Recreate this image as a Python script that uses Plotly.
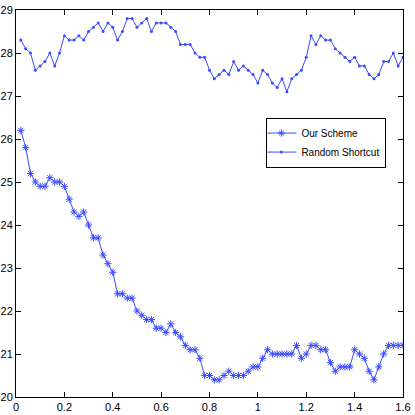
import plotly.graph_objects as go

x_vals = [round(0.02 * i, 2) for i in range(1, 81)]

our_scheme = [
    26.2, 25.8, 25.2, 25.0, 24.9, 24.9, 25.1, 25.0, 25.0, 24.9,
    24.6, 24.3, 24.2, 24.3, 24.0, 23.7, 23.7, 23.3, 23.1, 22.9,
    22.4, 22.4, 22.3, 22.3, 22.0, 21.9, 21.8, 21.8, 21.6, 21.6,
    21.5, 21.7, 21.5, 21.4, 21.2, 21.1, 21.1, 20.9, 20.5, 20.5,
    20.4, 20.4, 20.5, 20.6, 20.5, 20.5, 20.5, 20.6, 20.7, 20.7,
    20.9, 21.1, 21.0, 21.0, 21.0, 21.0, 21.0, 21.2, 20.9, 21.0,
    21.2, 21.2, 21.1, 21.1, 20.8, 20.6, 20.7, 20.7, 20.7, 21.1,
    21.0, 20.9, 20.6, 20.4, 20.7, 21.0, 21.2, 21.2, 21.2, 21.2,
]

random_shortcut = [
    28.3, 28.1, 28.0, 27.6, 27.7, 27.8, 28.0, 27.7, 28.0, 28.4,
    28.3, 28.3, 28.4, 28.3, 28.5, 28.6, 28.7, 28.5, 28.7, 28.6,
    28.3, 28.5, 28.8, 28.8, 28.6, 28.7, 28.8, 28.5, 28.7, 28.7,
    28.7, 28.6, 28.5, 28.2, 28.2, 28.2, 28.0, 27.9, 27.9, 27.6,
    27.4, 27.5, 27.6, 27.5, 27.8, 27.6, 27.7, 27.6, 27.5, 27.3,
    27.6, 27.5, 27.3, 27.2, 27.4, 27.1, 27.4, 27.5, 27.6, 27.9,
    28.4, 28.2, 28.4, 28.3, 28.3, 28.1, 28.0, 27.9, 27.8, 27.9,
    27.7, 27.7, 27.5, 27.4, 27.5, 27.8, 27.8, 28.0, 27.7, 27.9,
]

x_ticks = [0, 0.2, 0.4, 0.6, 0.8, 1.0, 1.2, 1.4, 1.6]
x_tick_labels = ["0", "0.2", "0.4", "0.6", "0.8", "1", "1.2", "1.4", "1.6"]
y_ticks = list(range(20, 30))

blue = "#3a4bff"
font_family = "Liberation Sans Narrow, Liberation Sans, Arial, sans-serif"

fig = go.Figure()
fig.add_trace(go.Scatter(
    x=x_vals, y=our_scheme, name="Our Scheme", mode="lines+markers",
    line=dict(color=blue, width=1),
    marker=dict(symbol="asterisk-open", size=6, color=blue, line=dict(color=blue, width=1)),
))
fig.add_trace(go.Scatter(
    x=x_vals, y=random_shortcut, name="Random Shortcut", mode="lines+markers",
    line=dict(color=blue, width=1),
    marker=dict(symbol="circle", size=3, color=blue),
))

axis_common = dict(
    showline=True, linecolor="black", linewidth=1, mirror="ticks",
    ticks="inside", ticklen=5, tickcolor="black", tickwidth=1,
    showgrid=False, zeroline=False, automargin=False,
    tickfont=dict(family=font_family, size=11, color="black"),
)

fig.update_xaxes(range=[0, 1.6], tickvals=x_ticks, ticktext=x_tick_labels, ticklabelstandoff=0, **axis_common)
fig.update_yaxes(range=[20, 29], tickvals=y_ticks, ticklabelstandoff=0, **axis_common)

fig.update_layout(
    width=415, height=415,
    margin=dict(l=16, r=12, t=10, b=18),
    plot_bgcolor="white", paper_bgcolor="white",
    legend=dict(
        x=0.647, y=0.722, xanchor="left", yanchor="top",
        bgcolor="white", bordercolor="black", borderwidth=1,
        font=dict(family=font_family, size=10, color="black"),
        tracegroupgap=0, itemwidth=30, indentation=-6,
    ),
    showlegend=True,
)

fig.write_html(
    "out.html",
    config={"displayModeBar": False},
    post_script="document.body.style.margin='0';document.body.style.overflow='hidden';",
)
